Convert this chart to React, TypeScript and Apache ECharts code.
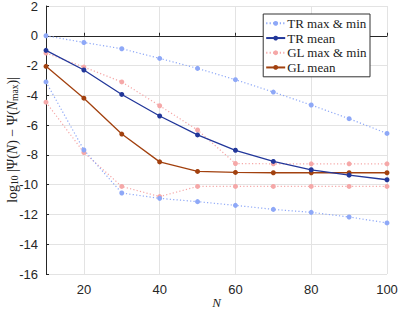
import React, { useEffect, useRef } from "react";
import * as echarts from "echarts";

const N = [10, 20, 30, 40, 50, 60, 70, 80, 90, 100];
const trMax = [0, -0.45, -0.87, -1.52, -2.19, -2.95, -3.78, -4.65, -5.57, -6.56];
const trMin = [-3.1, -7.67, -10.56, -10.92, -11.14, -11.39, -11.66, -11.86, -12.17, -12.57];
const trMean = [-0.98, -2.3, -3.94, -5.39, -6.66, -7.69, -8.44, -9.0, -9.36, -9.67];
const glMax = [-1.16, -2.1, -3.1, -4.7, -6.33, -8.58, -8.6, -8.6, -8.6, -8.6];
const glMin = [-4.46, -7.84, -10.12, -10.8, -10.12, -10.12, -10.12, -10.12, -10.12, -10.12];
const glMean = [-2.05, -4.19, -6.6, -8.47, -9.11, -9.18, -9.2, -9.2, -9.2, -9.2];
const xTicks = [20, 40, 60, 80, 100];

const C_TR_LIGHT = "#8ea8f7";
const C_TR = "#22379a";
const C_GL_LIGHT = "#f5a8a8";
const C_GL = "#a2410f";

const pairs = (ys: number[]) => N.map((x, i) => [x, ys[i]]);

export default function App() {
  const ref = useRef<HTMLDivElement>(null);
  useEffect(() => {
    const chart = echarts.init(ref.current!, undefined, { renderer: "svg" });
    const mk = (name: string, data: number[], color: string, dotted: boolean, z: number) => ({
      name,
      type: "line",
      data: pairs(data),
      symbol: "circle",
      symbolSize: 5,
      showSymbol: true,
      z,
      itemStyle: { color },
      lineStyle: { color, width: dotted ? 1.2 : 1.3, type: dotted ? [1.2, 2.2] : "solid" },
      emphasis: { disabled: true },
    });
    chart.setOption({
      animation: false,
      textStyle: { fontFamily: "Liberation Sans" },
      grid: { left: 46, right: 12, top: 6, bottom: 37, outerBoundsMode: "none", containLabel: false },
      legend: {
        right: 29,
        top: 14,
        orient: "vertical",
        data: ["TR max & min", "TR mean", "GL max & min", "GL mean"],
        itemWidth: 19,
        itemHeight: 6,
        itemGap: 0,
        padding: [2, 3, 2, 2],
        backgroundColor: "#fff",
        borderColor: "#333",
        borderWidth: 1,
        textStyle: { fontFamily: "Liberation Serif", fontSize: 13, lineHeight: 14.7, fontWeight: "normal", color: "#222", padding: [0, 0, 0, -3] },
      },
      xAxis: {
        type: "value",
        min: 10,
        max: 100,
        name: "N",
        nameLocation: "middle",
        nameGap: 22,
        nameMoveOverlap: false,
        nameTextStyle: { fontFamily: "Liberation Serif", fontStyle: "italic", fontSize: 13, color: "#222" },
        axisLine: { lineStyle: { color: "#262626", width: 1 } },
        axisTick: { inside: true, length: 3, customValues: xTicks, lineStyle: { color: "#262626" } },
        axisLabel: { customValues: xTicks, fontSize: 13, color: "#262626", margin: 9 },
        splitLine: { show: true, lineStyle: { color: "#e3e3e3", width: 1 } },
      },
      yAxis: {
        type: "value",
        min: -16,
        max: 2,
        interval: 2,
        name: "{a|log}{s|10}{a| |Ψ(}{i|N}{a|) − Ψ(}{i|N}{s|max}{a|)|}",
        nameLocation: "middle",
        nameRotate: 90,
        nameGap: 26,
        nameMoveOverlap: false,
        nameTextStyle: {
          rich: {
            a: { fontFamily: "Liberation Serif", fontSize: 14, color: "#222" },
            i: { fontFamily: "Liberation Serif", fontStyle: "italic", fontSize: 14, color: "#222" },
            s: { fontFamily: "Liberation Serif", fontSize: 9.5, color: "#222", verticalAlign: "bottom", padding: [6, 0, 0, 0] },
          },
        },
        axisLine: { show: true, lineStyle: { color: "#262626", width: 1 } },
        axisTick: { show: true, inside: true, length: 3, lineStyle: { color: "#262626" } },
        axisLabel: { fontSize: 13, color: "#262626", margin: 8 },
        splitLine: { show: true, lineStyle: { color: "#e3e3e3", width: 1 } },
      },
      series: [
        mk("TR max & min", trMax, C_TR_LIGHT, true, 2),
        mk("TR max & min", trMin, C_TR_LIGHT, true, 2),
        mk("GL max & min", glMax, C_GL_LIGHT, true, 1),
        mk("GL max & min", glMin, C_GL_LIGHT, true, 1),
        mk("TR mean", trMean, C_TR, false, 4),
        mk("GL mean", glMean, C_GL, false, 3),
      ],
    });
    return () => chart.dispose();
  }, []);
  return <div ref={ref} style={{ width: 399, height: 311, position: "absolute", left: 0, top: 0 }} />;
}
